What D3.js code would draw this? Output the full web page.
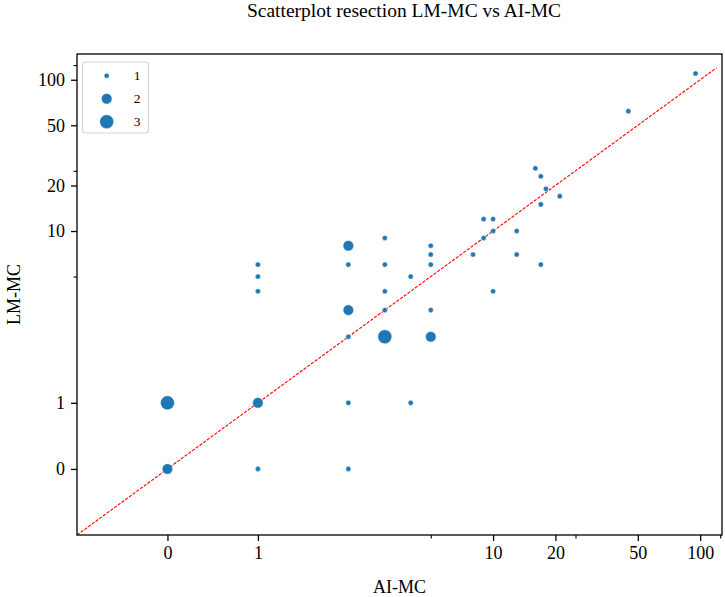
<!DOCTYPE html>
<html>
<head>
<meta charset="utf-8">
<script src="https://cdn.jsdelivr.net/npm/d3@7"></script>
<style>
  html, body { margin: 0; padding: 0; background: #fff; }
  svg { display: block; }
  text { font-family: "Liberation Serif", "DejaVu Serif", serif; fill: #000; }
</style>
</head>
<body>
<svg id="chart" width="725" height="597"></svg>
<script>
// ---- data ----
const aiMC   = [0, 0, 1, 1, 1, 1, 1, 2, 2, 2, 2, 2, 2, 3, 3, 3, 3, 3, 4, 4, 5, 5, 5, 5, 5, 8, 9, 9, 10, 10, 10, 13, 13, 16, 17, 18, 21, 17, 17, 45, 95];
const lmMC   = [1, 0, 1, 0, 6, 5, 4, 8, 6, 3, 2, 1, 0, 9, 6, 4, 3, 2, 5, 1, 8, 7, 6, 3, 2, 7, 12, 9, 12, 10, 4, 10, 7, 26, 23, 19, 17, 15, 6, 62, 110];
const counts = [3, 2, 2, 1, 1, 1, 1, 2, 1, 2, 1, 1, 1, 1, 1, 1, 1, 3, 1, 1, 1, 1, 1, 1, 2, 1, 1, 1, 1, 1, 1, 1, 1, 1, 1, 1, 1, 1, 1, 1, 1];
const majorTicks = [0, 1, 10, 20, 50, 100];
const majorLabels = ["0", "1", "10", "20", "50", "100"];
const minorTicks = [5, 25, 125];
const legendSizes = [1, 2, 3];
const refLine = [-1, 120];
const xLimits = [-1, 127.5];
const yLimits = [-1, 148];

// symlog transform (base 5, linthresh 2, linscale 1)
const LT = 2, BASE = 5, ADJ = 1 / (1 - 1 / BASE);
const T = v => {
  const a = Math.abs(v);
  return a <= LT ? v * ADJ : Math.sign(v) * LT * (ADJ + Math.log(a / LT) / Math.log(BASE));
};

const L = 77, R = 722, TOP = 54, B = 535;
const svg = d3.select("#chart");

const xs = d3.scaleLinear().domain(xLimits.map(T)).range([L, R]);
const ys = d3.scaleLinear().domain(yLimits.map(T)).range([B, TOP]);
const X = v => xs(T(v)), Y = v => ys(T(v));

const area = d3.scaleLinear().domain([1, 3]).range([6.5, 49]);
const rad = c => Math.sqrt(area(c));

const g = svg.append("g");

// reference line
g.append("line")
  .attr("x1", X(refLine[0])).attr("y1", Y(refLine[0]))
  .attr("x2", X(refLine[1])).attr("y2", Y(refLine[1]))
  .attr("stroke", "#ff0000").attr("stroke-width", 1.1)
  .attr("stroke-dasharray", "3.2,1.4");

// points
const pts = aiMC.map((x, i) => ({ x, y: lmMC[i], c: counts[i] }));
g.selectAll("circle.pt").data(pts).join("circle")
  .attr("class", "pt")
  .attr("cx", d => X(d.x)).attr("cy", d => Y(d.y))
  .attr("r", d => rad(d.c))
  .attr("fill", "#1f77b4")
  .attr("stroke", "#ffffff").attr("stroke-width", 0.4);

// axes
const xAxis = d3.axisBottom(xs)
  .tickValues(majorTicks.map(T))
  .tickFormat((d, i) => majorLabels[i])
  .tickSize(6).tickPadding(5).tickSizeOuter(0);
const xg = svg.append("g").attr("transform", `translate(0,${B})`).call(xAxis);
xg.select(".domain").remove();
xg.selectAll(".tick line").attr("stroke-width", 1.3);
xg.selectAll(".tick text").style("font-size", "18px")
  .style("font-family", '"Liberation Serif", serif');

const xMinor = d3.axisBottom(xs).tickValues(minorTicks.map(T)).tickFormat("").tickSize(3.5).tickSizeOuter(0);
const xmg = svg.append("g").attr("transform", `translate(0,${B})`).call(xMinor);
xmg.select(".domain").remove();
xmg.selectAll(".tick line").attr("stroke-width", 1.1);

const yAxis = d3.axisLeft(ys)
  .tickValues(majorTicks.map(T))
  .tickFormat((d, i) => majorLabels[i])
  .tickSize(6).tickPadding(6).tickSizeOuter(0);
const yg = svg.append("g").attr("transform", `translate(${L},0)`).call(yAxis);
yg.select(".domain").remove();
yg.selectAll(".tick line").attr("stroke-width", 1.3);
yg.selectAll(".tick text").style("font-size", "18px")
  .style("font-family", '"Liberation Serif", serif');

const yMinor = d3.axisLeft(ys).tickValues(minorTicks.map(T)).tickFormat("").tickSize(3.5).tickSizeOuter(0);
const ymg = svg.append("g").attr("transform", `translate(${L},0)`).call(yMinor);
ymg.select(".domain").remove();
ymg.selectAll(".tick line").attr("stroke-width", 1.1);

// frame
svg.append("rect").attr("x", L).attr("y", TOP).attr("width", R - L).attr("height", B - TOP)
  .attr("fill", "none").attr("stroke", "#000").attr("stroke-width", 1.3);

// titles
svg.append("text").attr("x", 404).attr("y", 17).attr("text-anchor", "middle")
  .style("font-size", "19.5px").text("Scatterplot resection LM-MC vs AI-MC");
svg.append("text").attr("x", (L + R) / 2).attr("y", 593).attr("text-anchor", "middle")
  .style("font-size", "18px").text("AI-MC");
svg.append("text").attr("transform", `translate(20,${(TOP + B) / 2}) rotate(-90)`)
  .attr("text-anchor", "middle").style("font-size", "18px").text("LM-MC");

// legend
const lg = svg.append("g");
lg.append("rect").attr("x", 82.5).attr("y", 62).attr("width", 66).attr("height", 71)
  .attr("rx", 3).attr("fill", "#fff").attr("fill-opacity", 0.8)
  .attr("stroke", "#d5d5d5").attr("stroke-width", 1.2);
const ly = d3.scaleLinear().domain([1, 3]).range([75.7, 121.7]);
lg.selectAll("circle").data(legendSizes).join("circle")
  .attr("cx", 106.7).attr("cy", d => ly(d)).attr("r", d => rad(d))
  .attr("fill", "#1f77b4").attr("stroke", "#fff").attr("stroke-width", 0.4);
lg.selectAll("text").data(legendSizes).join("text")
  .attr("x", 137).attr("y", d => ly(d) + 4.5).attr("text-anchor", "middle")
  .style("font-size", "13.5px").text(d => d);
</script>
</body>
</html>
